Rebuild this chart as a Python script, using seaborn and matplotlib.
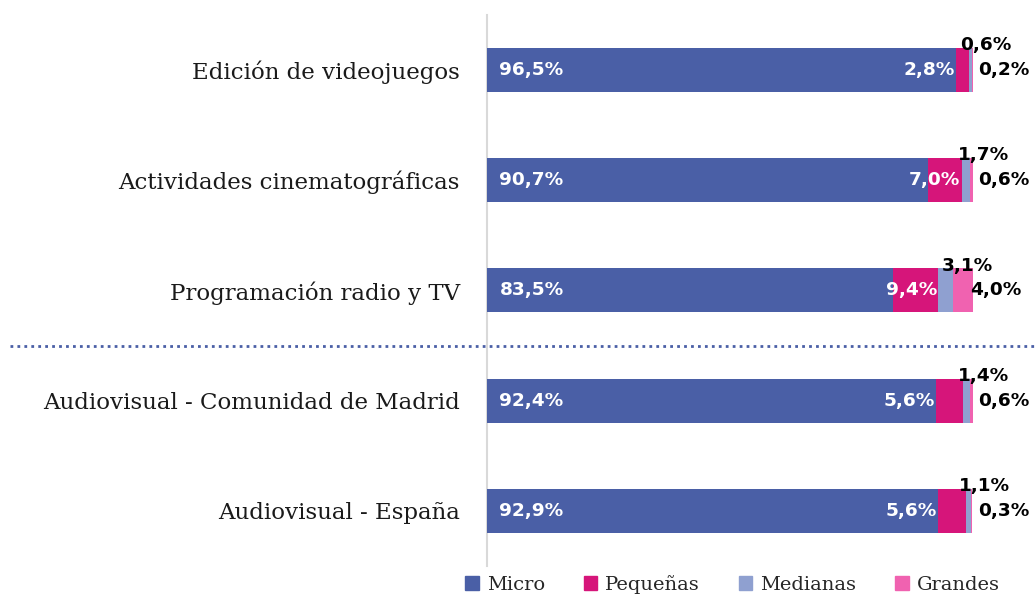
import matplotlib
matplotlib.use("Agg")
import matplotlib.pyplot as plt
import seaborn as sns
import pandas as pd
import numpy as np
from matplotlib.lines import Line2D

categories = ["Edición de videojuegos", "Actividades cinematográficas",
              "Programación radio y TV", "Audiovisual - Comunidad de Madrid",
              "Audiovisual - España"]
micro = [96.5, 90.7, 83.5, 92.4, 92.9]
pequenas = [2.8, 7.0, 9.4, 5.6, 5.6]
medianas = [0.6, 1.7, 3.1, 1.4, 1.1]
grandes = [0.2, 0.6, 4.0, 0.6, 0.3]
series_names = ["Micro", "Pequeñas", "Medianas", "Grandes"]
colors = ["#4A5FA6", "#D6157A", "#8FA0D0", "#F062B0"]

sns.set_theme(style="white")
plt.rcParams["font.family"] = ["DejaVu Serif"]

fig = plt.figure(figsize=(10.36, 5.97), dpi=100)
ax = fig.add_axes([0.470, 0.052, 0.469, 0.923])

df = pd.DataFrame({"Categoría": categories, "Micro": micro, "Pequeñas": pequenas,
                   "Medianas": medianas, "Grandes": grandes})
cum = np.zeros(len(categories))
vals_all = [micro, pequenas, medianas, grandes]
for name, vals, col in zip(series_names, vals_all, colors):
    tmp = df.copy()
    tmp["end"] = cum + np.array(vals)
    sns.barplot(data=tmp, y="Categoría", x="end", color=col, ax=ax, width=0.4,
                orient="h", saturation=1, linewidth=0)
    cum = cum + np.array(vals)

for i, cont in enumerate(ax.containers):
    for p in cont:
        p.set_zorder(10 - i)

if ax.get_legend() is not None:
    ax.get_legend().remove()

ax.set_xlim(0, 100)
ax.set_ylim(4.5, -0.5)
ax.set_xlabel("")
ax.set_ylabel("")
ax.set_xticks([])
ax.tick_params(axis="y", length=0, pad=19.5, labelsize=16.5)
for lab in ax.get_yticklabels():
    lab.set_color("#1a1a1a")
for s in ["top", "right", "bottom"]:
    ax.spines[s].set_visible(False)
ax.spines["left"].set_color("#d9d9d9")
ax.spines["left"].set_linewidth(1.5)

lbl_font = dict(family="DejaVu Sans", fontweight="bold", fontsize=13.3)
for i in range(len(categories)):
    m, p, md, g = micro[i], pequenas[i], medianas[i], grandes[i]
    ax.annotate(f"{m:.1f}%".replace(".", ","), (0, i), xytext=(9, 0),
                textcoords="offset points", ha="left", va="center", color="white",
                zorder=20, **lbl_font)
    px = m + p if p >= 7 else m
    ax.annotate(f"{p:.1f}%".replace(".", ","), (px, i), xytext=(-1, 0),
                textcoords="offset points", ha="right", va="center", color="white",
                zorder=20, **lbl_font)
    ax.annotate(f"{md:.1f}%".replace(".", ","), (m + p + md, i - 0.2), xytext=(10, 2),
                textcoords="offset points", ha="center", va="center", color="black",
                zorder=20, annotation_clip=False, **lbl_font)
    ax.annotate(f"{g:.1f}%".replace(".", ","), (100, i), xytext=(4 if g < 2 else -2, 0),
                textcoords="offset points", ha="left", va="center", color="black",
                zorder=20, annotation_clip=False, **lbl_font)

y_sep = ax.transData.transform((0, 2.5))[1] / fig.bbox.height
fig.add_artist(Line2D([10 / 1036, 1.0], [y_sep, y_sep], transform=fig.transFigure,
                      color="#4A5FA6", linestyle=(0, (1, 1.5)), linewidth=2))

handles = [plt.Rectangle((0, 0), 1, 1, color=c) for c in colors]
fig.legend(handles, series_names, loc="lower center", ncol=4,
           bbox_to_anchor=(0.707, -0.024), frameon=False, fontsize=14,
           handlelength=0.7, handleheight=0.7, handletextpad=0.4, columnspacing=2.0)

fig.savefig("out.png", dpi=100)
